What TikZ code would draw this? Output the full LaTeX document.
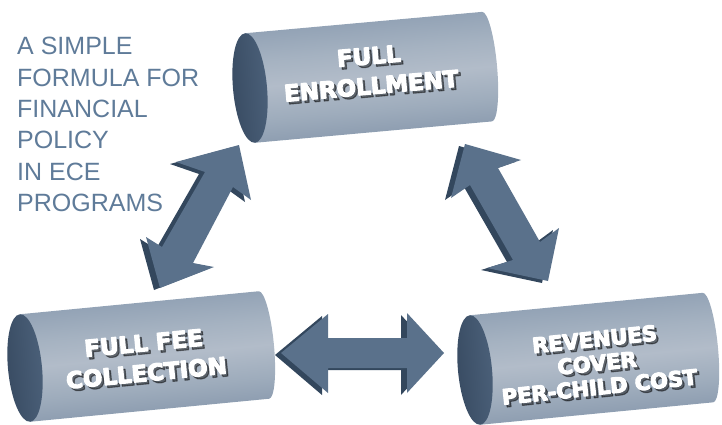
\documentclass[tikz,border=0pt]{standalone}
\usepackage{fontspec}
\setmainfont{Liberation Sans}
\newfontfamily\capfont{DejaVu Sans}[BoldFont={DejaVu Sans Bold}]
\usetikzlibrary{calc}

% fill-and-stroke text rendering for extra heavy lettering
\newcommand{\heavytext}[1]{%
  \special{pdf:literal direct 2 Tr 1.1 w 1 j}#1\special{pdf:literal direct 0 Tr}}

\definecolor{titleblue}{HTML}{5F7B99}
\definecolor{arrowface}{HTML}{5A718B}
\definecolor{arrowside}{HTML}{33475D}
\definecolor{capdark}{HTML}{3A4D64}
\definecolor{capedge}{HTML}{4A5F78}
\definecolor{cylA}{HTML}{63768D}
\definecolor{cylB}{HTML}{7A8CA1}
\definecolor{cylC}{HTML}{8A9AAE}
\definecolor{cylD}{HTML}{9EACBC}
\definecolor{cylE}{HTML}{B2BCC9}
\definecolor{cylF}{HTML}{A5B2C1}
\definecolor{cylG}{HTML}{92A2B5}
\definecolor{cylH}{HTML}{778BA2}
\definecolor{cylI}{HTML}{62778F}

% banded metal look of the tubes, bottom to top
\pgfdeclareverticalshading{cylband}{100bp}{%
  color(0bp)=(cylA); color(10bp)=(cylB); color(22bp)=(cylC);
  color(35bp)=(cylD); color(50bp)=(cylE); color(62bp)=(cylF);
  color(76bp)=(cylG); color(90bp)=(cylH); color(100bp)=(cylI)}

\tikzset{
  captxt/.style={font=\fontsize{23}{30}\capfont\bfseries, align=center,
    text=white, inner sep=0pt},
  capshadow/.style={captxt, text=black, opacity=0.45},
  arrowbody/.style={fill=arrowface},
  arrowdepth/.style={fill=arrowside},
}

% tube: left-end centre (#1,#2), tilt #3, length #4, radius #5
\newcommand{\tube}[5]{%
  \begin{scope}[transform canvas={shift={(#1,#2)},rotate=#3}]
    \shade[shading=cylband] (0,#5) -- (#4,#5)
      arc[start angle=90,end angle=-90,x radius=10,y radius=#5]
      -- (0,-#5) -- cycle;
    \shade[left color=capdark, right color=capedge]
      (0,0) ellipse[x radius=17,y radius=#5];
  \end{scope}}

\begin{document}
\begin{tikzpicture}[x=1pt,y=1pt]
\useasboundingbox (0,0) rectangle (722,424);

% ---- the three tubes
\tube{250}{336}{5.15}{238}{55}
\tube{25}{56}{5.5}{240}{54}
\tube{475}{54}{5.5}{234}{55}

% ---- caption
\node[anchor=north west, align=left, inner sep=0pt, text=titleblue,
      font=\fontsize{25}{31.4}\selectfont] (title) at (17,387)
  {A SIMPLE\\FORMULA FOR\\FINANCIAL\\POLICY\\IN ECE\\PROGRAMS};

% ---- double arrows (side face first, then front face)
\foreach \dx/\dy/\sty in {-6/-2/arrowdepth, 0/0/arrowbody}{
  \begin{scope}[shift={(\dx,\dy)}]
    % left diagonal
    \fill[\sty] (239,279) -- (251,224) -- (233,237) -- (193,161) -- (214,157)
      -- (160,136) -- (146,187) -- (162,177) -- (205,252) -- (176,262) -- cycle;
    % right diagonal
    \fill[\sty] (465,280) -- (521,264) -- (498,256) -- (540,182) -- (559,196)
      -- (548,143) -- (487,156) -- (513,164) -- (470,239) -- (451,226) -- cycle;
    % horizontal
    \fill[\sty] (281,71) -- (328,110) -- (328,86) -- (407,86) -- (407,111)
      -- (444,71) -- (407,31) -- (407,56) -- (328,56) -- (328,31) -- cycle;
  \end{scope}
}

% ---- tube labels, with a soft drop shadow
\node[capshadow, rotate=5] (enrollS) at (372.5,350.5)
  {\heavytext{FULL}\\\heavytext{ENROLLMENT}};
\node[capshadow, rotate=5.5] (feeS) at (147.5,63.5)
  {\heavytext{FULL FEE}\\\heavytext{COLLECTION}};
\node[capshadow, rotate=6, font=\fontsize{21}{24}\capfont\bfseries]
  (costS) at (599.5,58.5)
  {\heavytext{REVENUES}\\\heavytext{COVER}\\\heavytext{PER-CHILD COST}};

\node[captxt, rotate=5] (enroll) at (370,353)
  {\heavytext{FULL}\\\heavytext{ENROLLMENT}};
\node[captxt, rotate=5.5] (fee) at (145,66)
  {\heavytext{FULL FEE}\\\heavytext{COLLECTION}};
\node[captxt, rotate=6, font=\fontsize{21}{24}\capfont\bfseries]
  (cost) at (597,61)
  {\heavytext{REVENUES}\\\heavytext{COVER}\\\heavytext{PER-CHILD COST}};

\end{tikzpicture}
\end{document}
